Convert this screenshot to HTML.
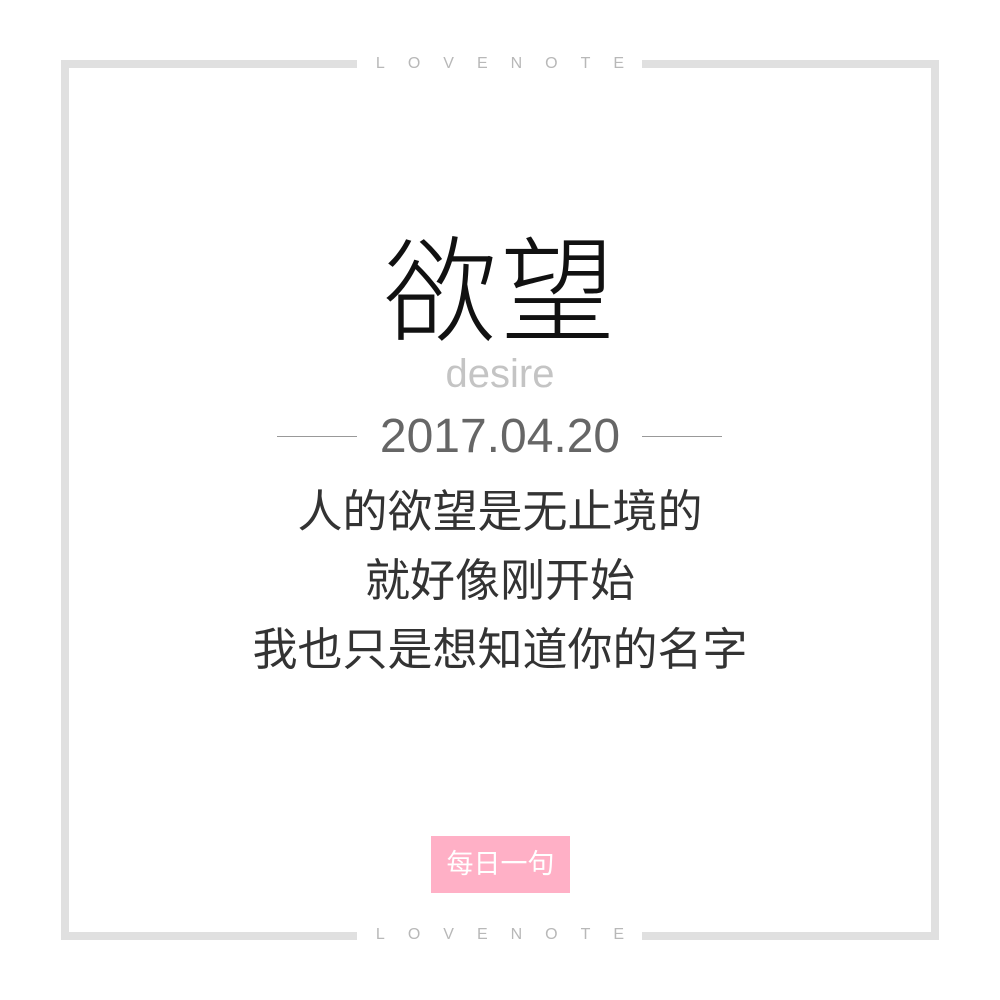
<!DOCTYPE html>
<html>
<head>
<meta charset="utf-8">
<style>
  html,body{margin:0;padding:0;background:#fff;}
  body{width:1000px;height:1000px;position:relative;overflow:hidden;
    font-family:"Liberation Sans","Noto Sans CJK SC",sans-serif;}
  .frame{position:absolute;left:61px;top:60px;width:862px;height:864px;border:8px solid #e0e0e0;}
  .gap{position:absolute;background:#fff;height:14px;left:357px;width:285px;}
  .lovenote{position:absolute;left:300px;width:400px;text-align:center;font-size:16px;letter-spacing:23px;color:#b8b8b8;line-height:18px;text-indent:23px;white-space:nowrap;}
  .center{position:absolute;left:0;width:1000px;text-align:center;}
  .title{top:228px;font-size:115px;color:#111;line-height:130px;font-weight:300;letter-spacing:2px;}
  .desire{top:352px;font-size:40px;color:#c4c4c4;line-height:44px;}
  .date{top:411px;font-size:48px;color:#666;line-height:52px;}
  .hline{position:absolute;top:436px;height:1px;background:#999;width:80px;}
  .line{font-size:45px;color:#333;line-height:50px;}
  .btn{position:absolute;left:431px;top:836px;width:139px;height:57px;background:#ffb0c6;color:#fff;font-size:27px;line-height:57px;text-align:center;}
</style>
</head>
<body>
<div class="frame"></div>
<div class="gap" style="top:57px"></div>
<div class="gap" style="top:929px"></div>
<div class="lovenote" style="top:55px">LOVENOTE</div>
<div class="lovenote" style="top:926px">LOVENOTE</div>
<div class="center title">欲望</div>
<div class="center desire">desire</div>
<div class="hline" style="left:277px"></div>
<div class="hline" style="left:642px"></div>
<div class="center date">2017.04.20</div>
<div class="center line" style="top:487px">人的欲望是无止境的</div>
<div class="center line" style="top:556px">就好像刚开始</div>
<div class="center line" style="top:625px">我也只是想知道你的名字</div>
<div class="btn">每日一句</div>
</body>
</html>
